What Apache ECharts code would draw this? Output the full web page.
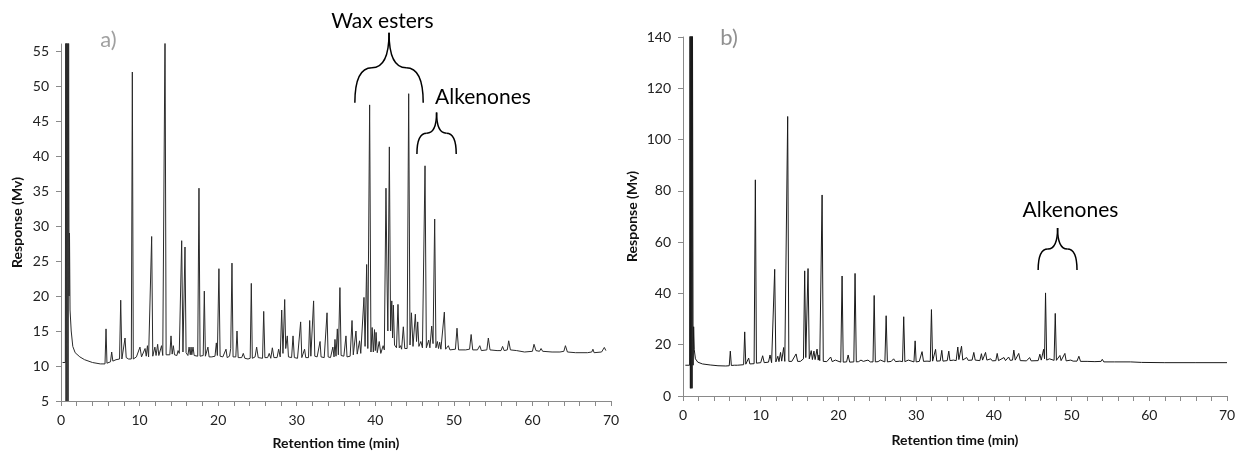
<!DOCTYPE html>
<html>
<head>
  <meta charset="utf-8">
  <script src="https://cdn.jsdelivr.net/npm/echarts@6.0.0/dist/echarts.min.js"></script>
</head>
<body style="margin: 0; background: #fff">
  <div id="container" style="width: 1242px; height: 455px;"></div>
  <script>
    // chromatogram a) -- [retention time (min), response (Mv)]
    const traceA = [
      [0.2,10.5],[0.55,10.5],[0.6,58],[0.64,5],[0.7,58],[0.76,5],[0.84,58],[0.9,5],[0.97,58],[1.03,20],[1.08,29],[1.15,18],
      [1.3,15],[1.5,12.8],[1.8,11.9],[2.4,11.3],[3,10.9],[4,10.5],[5,10.3],[5.6,10.3],
      [5.73,15.3],[5.85,10.4],[6.3,10.6],[6.45,12.0],[6.6,10.7],[7.0,10.9],[7.45,11.0],[7.6,19.4],[7.75,11.0],[8.0,11.2],
      [8.15,14.0],[8.3,11.2],[8.6,11.0],[8.95,11.0],[9.08,52.0],[9.2,11.0],[9.6,11.3],[9.85,11.2],[10.05,12.7],[10.25,11.3],
      [10.5,11.4],[10.7,12.5],[10.85,11.4],[11.0,12.9],[11.15,11.3],[11.4,11.3],[11.54,28.5],[11.68,11.4],[11.8,11.5],
      [11.95,12.7],[12.1,11.5],[12.3,13.1],[12.45,11.5],[12.65,11.6],[12.8,12.9],[12.95,11.5],[13.1,11.5],[13.24,58],
      [13.38,11.6],[13.6,11.5],[13.85,11.6],[14.0,14.3],[14.15,11.7],[14.3,12.9],[14.45,11.6],[14.75,11.5],[14.9,12.2],
      [15.05,11.8],[15.2,12.0],[15.36,27.9],[15.52,12.0],[15.65,12.2],[15.78,27.0],[15.92,11.9],[16.15,11.5],[16.3,12.7],
      [16.45,11.6],[16.55,12.7],[16.65,11.6],[16.8,12.7],[16.95,11.5],[17.4,11.4],[17.56,35.4],[17.7,11.4],[18.1,11.5],
      [18.24,20.7],[18.38,11.4],[18.55,11.4],[18.7,12.7],[18.85,11.3],[19.2,11.3],[19.6,11.4],[19.77,13.3],[19.9,11.5],
      [20.1,23.9],[20.25,11.4],[20.6,11.3],[20.8,11.2],[21.0,12.4],[21.15,11.2],[21.45,11.4],[21.6,12.5],[21.76,24.7],
      [21.9,11.3],[22.25,11.3],[22.4,15.0],[22.55,11.2],[23.0,11.2],[23.2,11.8],[23.4,11.1],[23.8,11.0],[24.08,11.1],
      [24.22,21.8],[24.35,11.1],[24.7,11.3],[24.9,12.7],[25.1,11.2],[25.65,11.1],[25.8,17.8],[25.95,11.2],[26.3,11.2],
      [26.5,11.8],[26.7,11.1],[26.9,12.6],[27.1,11.2],[27.5,11.2],[27.7,12.4],[27.9,11.3],[28.09,18.0],[28.25,11.8],
      [28.47,19.5],[28.6,12.5],[28.8,14.3],[28.95,11.3],[29.35,11.2],[29.53,14.3],[29.7,11.2],[30.1,11.1],[30.35,11.3],
      [30.5,16.3],[30.65,11.2],[30.85,11.2],[31.0,12.4],[31.15,11.2],[31.5,11.2],[31.65,16.5],[31.8,11.4],[32.0,11.4],
      [32.15,19.3],[32.3,11.4],[32.6,11.3],[32.97,13.5],[33.1,11.3],[33.5,11.2],[33.7,11.3],[33.86,17.6],[34.0,11.3],
      [34.3,11.2],[34.6,12.7],[34.75,11.3],[34.87,13.8],[35.0,11.4],[35.17,15.3],[35.3,11.6],[35.5,21.2],[35.65,11.5],
      [36.0,11.4],[36.27,14.3],[36.4,11.3],[36.8,11.4],[37.04,16.5],[37.2,11.6],[37.4,11.6],[37.54,15.0],[37.7,11.7],
      [38.0,13.6],[38.15,11.8],[38.4,12.0],[38.56,19.8],[38.7,12.8],[38.9,24.5],[39.05,12.5],[39.28,47.3],[39.45,12.0],
      [39.6,15.5],[39.75,12.0],[39.9,15.2],[40.0,12.2],[40.1,14.8],[40.25,11.9],[40.5,13.5],[40.7,11.8],[41.0,12.9],
      [41.15,12.3],[41.36,35.4],[41.5,22],[41.6,15],[41.79,41.3],[41.95,15],[42.1,19.3],[42.2,14],[42.3,18.7],[42.45,13],
      [42.7,12.6],[42.89,18.8],[43.05,12.6],[43.2,12.9],[43.35,12.4],[43.57,15.6],[43.75,12.5],[44.05,12.5],[44.25,48.9],
      [44.42,13.0],[44.6,17.6],[44.8,12.8],[45.1,17.4],[45.25,13.5],[45.4,16.3],[45.55,12.8],[45.8,13.5],[46.0,12.6],
      [46.15,12.6],[46.33,38.6],[46.5,12.6],[46.8,13.7],[46.95,12.6],[47.18,15.7],[47.35,13.2],[47.56,31.0],[47.72,12.6],
      [47.9,13.5],[48.05,12.5],[48.2,13.4],[48.35,12.4],[48.6,12.4],[48.79,17.7],[48.95,12.4],[49.3,12.9],[49.5,12.3],
      [50.2,12.4],[50.4,15.4],[50.6,12.3],[51.5,12.3],[52.0,12.4],[52.2,14.5],[52.4,12.3],[53.0,12.3],[53.3,12.9],
      [53.5,12.2],[54.2,12.3],[54.39,14.0],[54.6,12.3],[55.5,12.2],[56.0,12.2],[56.2,12.8],[56.4,12.2],[56.8,12.3],
      [56.98,13.6],[57.2,12.3],[58,12.2],[59,12.0],[60.0,12.1],[60.2,13.1],[60.45,12.2],[60.9,12.1],[61.1,12.5],
      [61.3,12.1],[62.5,12.0],[63.5,12.0],[64.0,12.1],[64.2,12.9],[64.45,12.0],[65.5,11.9],[67,11.9],[67.55,12.0],
      [67.7,12.4],[67.85,11.9],[68.8,12.0],[69.15,12.65],[69.35,12.2]
    ];

    // chromatogram b)
    const traceB = [
      [0.3,12],[0.85,12],[0.9,145],[0.95,3],[1.0,145],[1.05,3],[1.1,145],[1.17,3],[1.22,145],[1.3,12],[1.37,27],[1.45,18],
      [1.6,14.5],[1.9,13.2],[2.5,12.5],[3.5,12.1],[4.5,11.8],[5.5,11.7],[5.95,11.8],[6.09,17.5],[6.22,11.9],[6.6,12.0],
      [6.8,12.5],[7.0,12.0],[7.8,12.2],[7.94,25.0],[8.08,12.4],[8.3,12.6],[8.45,14.8],[8.6,12.5],[9.15,12.6],[9.31,84.3],
      [9.45,12.8],[10.0,13.0],[10.25,15.7],[10.45,13.0],[11.0,13.2],[11.2,16.0],[11.4,13.0],[11.65,13.2],[11.8,49.4],
      [11.95,13.3],[12.2,15.5],[12.35,13.4],[12.55,17.0],[12.7,13.6],[12.95,18.9],[13.1,13.5],[13.32,13.6],[13.47,109],
      [13.62,13.5],[14.0,13.5],[14.25,13.2],[14.55,16.4],[14.75,13.5],[15.1,13.5],[15.3,14.0],[15.5,14.5],[15.66,48.8],
      [15.8,15],[15.95,15.5],[16.09,49.7],[16.25,14.5],[16.5,17.7],[16.65,14.2],[16.85,17.5],[17.0,14.2],[17.25,18.3],
      [17.4,14.0],[17.5,16],[17.6,13.8],[17.75,13.5],[17.9,78.4],[18.05,13.5],[18.5,13.4],[19.0,15.2],[19.2,13.4],
      [19.6,14.0],[19.8,13.3],[20.3,13.2],[20.47,46.8],[20.62,13.2],[21.05,13.3],[21.25,16.0],[21.45,13.2],[21.98,13.3],
      [22.14,47.8],[22.3,13.3],[22.6,13.4],[22.9,14.0],[23.2,13.5],[23.8,14.0],[24.1,13.3],[24.45,13.3],[24.6,39.2],
      [24.75,13.3],[25.1,13.4],[25.4,14.0],[25.6,13.3],[25.98,13.3],[26.14,31.3],[26.3,13.3],[26.8,13.5],[27.1,14.5],
      [27.35,13.4],[27.9,13.6],[28.25,13.4],[28.4,30.9],[28.55,13.4],[29.0,14.0],[29.2,13.3],[29.72,13.3],[29.87,21.5],
      [30.0,13.3],[30.4,13.5],[30.76,17.3],[30.95,13.5],[31.4,13.6],[31.82,13.5],[31.97,33.7],[32.12,13.6],[32.5,18.2],
      [32.65,13.6],[33.1,13.7],[33.3,17.8],[33.45,13.6],[34.0,13.8],[34.2,17.5],[34.35,13.8],[34.8,14.0],[35.0,14.5],
      [35.15,13.8],[35.36,19.1],[35.5,14.2],[35.84,19.4],[36.0,14.0],[36.5,15.0],[36.7,13.9],[37.2,14.0],[37.42,17.0],
      [37.6,14.0],[38.2,13.8],[38.4,16.5],[38.55,14.0],[38.93,17.0],[39.1,14.0],[39.6,14.5],[39.8,13.7],[40.25,13.8],
      [40.43,16.6],[40.6,13.8],[41.3,15.0],[41.5,13.8],[41.9,15.2],[42.1,13.9],[42.4,14.0],[42.57,17.9],[42.75,14.0],
      [43.2,16.6],[43.4,13.8],[44.2,13.7],[44.6,15.0],[44.8,13.7],[45.7,13.8],[45.92,16.3],[46.1,14.0],[46.4,18.2],
      [46.52,14.5],[46.65,40.2],[46.8,14.0],[47.15,14.5],[47.3,13.8],[47.75,13.9],[47.9,32.2],[48.05,13.9],[48.5,15.8],
      [48.65,13.8],[49.14,16.6],[49.3,13.7],[49.9,14.0],[50.2,13.6],[50.7,13.6],[50.94,15.5],[51.15,13.5],[52.0,13.5],
      [53.0,13.4],[53.8,13.5],[53.95,14.3],[54.15,13.3],[55.5,13.3],[57.6,13.3],[59,13.1],[62,13.0],[66,13.0],[70,13.0]
    ];

    const yTicksA = [5, 10, 15, 20, 25, 30, 35, 40, 45, 50, 55];
    const yTicksB = [0, 20, 40, 60, 80, 100, 120, 140];
    const xTicks = [0, 10, 20, 30, 40, 50, 60, 70];
    const panelLabels = ['a)', 'b)'];
    const groupLabels = ['Wax esters', 'Alkenones', 'Alkenones'];

    const FONT = 'Lato';
    const axisColor = '#8a8a8a';

    var dom = document.getElementById('container');
    var myChart = echarts.init(dom, null, { renderer: 'canvas' });

    function xAxisOf(gridIndex) {
      return {
        gridIndex: gridIndex,
        type: 'value',
        min: 0,
        max: 70,
        interval: 10,
        name: 'Retention time (min)',
        nameLocation: 'middle',
        nameGap: gridIndex === 0 ? 35 : 37,
        nameTextStyle: { fontFamily: FONT, fontWeight: 'bold', fontSize: 14, color: '#111' },
        axisLine: { onZero: false, lineStyle: { color: axisColor, width: 1 } },
        axisTick: { show: true, length: 5, lineStyle: { color: axisColor }, customValues: xTicks },
        minorTick: { show: true, splitNumber: 5, length: 5, lineStyle: { color: axisColor } },
        axisLabel: { fontFamily: FONT, fontSize: 14, color: '#222', margin: 12, customValues: xTicks },
        splitLine: { show: false }
      };
    }

    function yAxisOf(gridIndex, min, max, step, ticks) {
      return {
        gridIndex: gridIndex,
        type: 'value',
        min: min,
        max: max,
        interval: step,
        name: 'Response (Mv)',
        nameLocation: 'middle',
        nameGap: gridIndex === 0 ? 37 : 44,
        nameTextStyle: { fontFamily: FONT, fontWeight: 'bold', fontSize: 14, color: '#111' },
        axisLine: { show: true, onZero: false, lineStyle: { color: axisColor, width: 1 } },
        axisTick: { show: true, length: 5, lineStyle: { color: axisColor }, customValues: ticks },
        axisLabel: { fontFamily: FONT, fontSize: 14, color: '#222', margin: 12, customValues: ticks },
        splitLine: { show: false }
      };
    }

    var option = {
      animation: false,
      grid: [
        { left: 61, top: 44, width: 550, height: 358 },
        { left: 683, top: 37, width: 544, height: 359 }
      ],
      xAxis: [xAxisOf(0), xAxisOf(1)],
      yAxis: [yAxisOf(0, 5, 56, 5, yTicksA), yAxisOf(1, 0, 140, 20, yTicksB)],
      series: [
        {
          type: 'line', xAxisIndex: 0, yAxisIndex: 0, data: traceA, showSymbol: false, symbol: 'none',
          lineStyle: { color: '#2b2b2b', width: 1 }, clip: true
        },
        {
          type: 'line', xAxisIndex: 1, yAxisIndex: 1, data: traceB, showSymbol: false, symbol: 'none',
          lineStyle: { color: '#1a1a1a', width: 1 }, clip: true
        }
      ]
    };
    myChart.setOption(option);

    // curly brace from four quadratic curves: feet at vFeet, tip at vTip
    function brace(gridIndex, tFrom, tTo, vFeet, vTip) {
      const p0 = myChart.convertToPixel({ gridIndex: gridIndex }, [tFrom, vFeet]);
      const p1 = myChart.convertToPixel({ gridIndex: gridIndex }, [tTo, vTip]);
      const x0 = p0[0], x1 = p1[0], yb = p0[1], yt = p1[1];
      const xc = (x0 + x1) / 2, ys = (yb + yt) / 2, q = (x1 - x0) * 0.25;
      const segs = [
        [x0, yb, x0 + q, ys, x0, ys],
        [x0 + q, ys, xc, yt, xc, ys],
        [xc, yt, x1 - q, ys, xc, ys],
        [x1 - q, ys, x1, yb, x1, ys]
      ];
      return segs.map(s => ({
        type: 'bezierCurve',
        shape: { x1: s[0], y1: s[1], x2: s[2], y2: s[3], cpx1: s[4], cpy1: s[5] },
        style: { fill: null, stroke: '#000', lineWidth: 1.5 }
      }));
    }

    function label(gridIndex, t, v, text, color, size) {
      const p = myChart.convertToPixel({ gridIndex: gridIndex }, [t, v]);
      return {
        type: 'text',
        x: p[0],
        y: p[1],
        style: { text: text, fill: color, font: size + 'px ' + FONT, textAlign: 'left', textVerticalAlign: 'middle' }
      };
    }

    myChart.setOption({
      graphic: [].concat(
        brace(0, 37.4, 46.1, 47.6, 57.6),
        brace(0, 45.3, 50.3, 40.3, 46.2),
        brace(1, 45.7, 50.7, 49.1, 65.5),
        [
          label(0, 34.4, 59.3, groupLabels[0], '#000', 21),
          label(0, 47.6, 48.4, groupLabels[1], '#000', 21),
          label(1, 43.7, 72.5, groupLabels[2], '#000', 21),
          label(0, 5.0, 56.6, panelLabels[0], '#a0a0a0', 22),
          label(1, 4.8, 139.5, panelLabels[1], '#909090', 22)
        ]
      )
    });

    window.addEventListener('resize', myChart.resize);
  </script>
</body>
</html>
